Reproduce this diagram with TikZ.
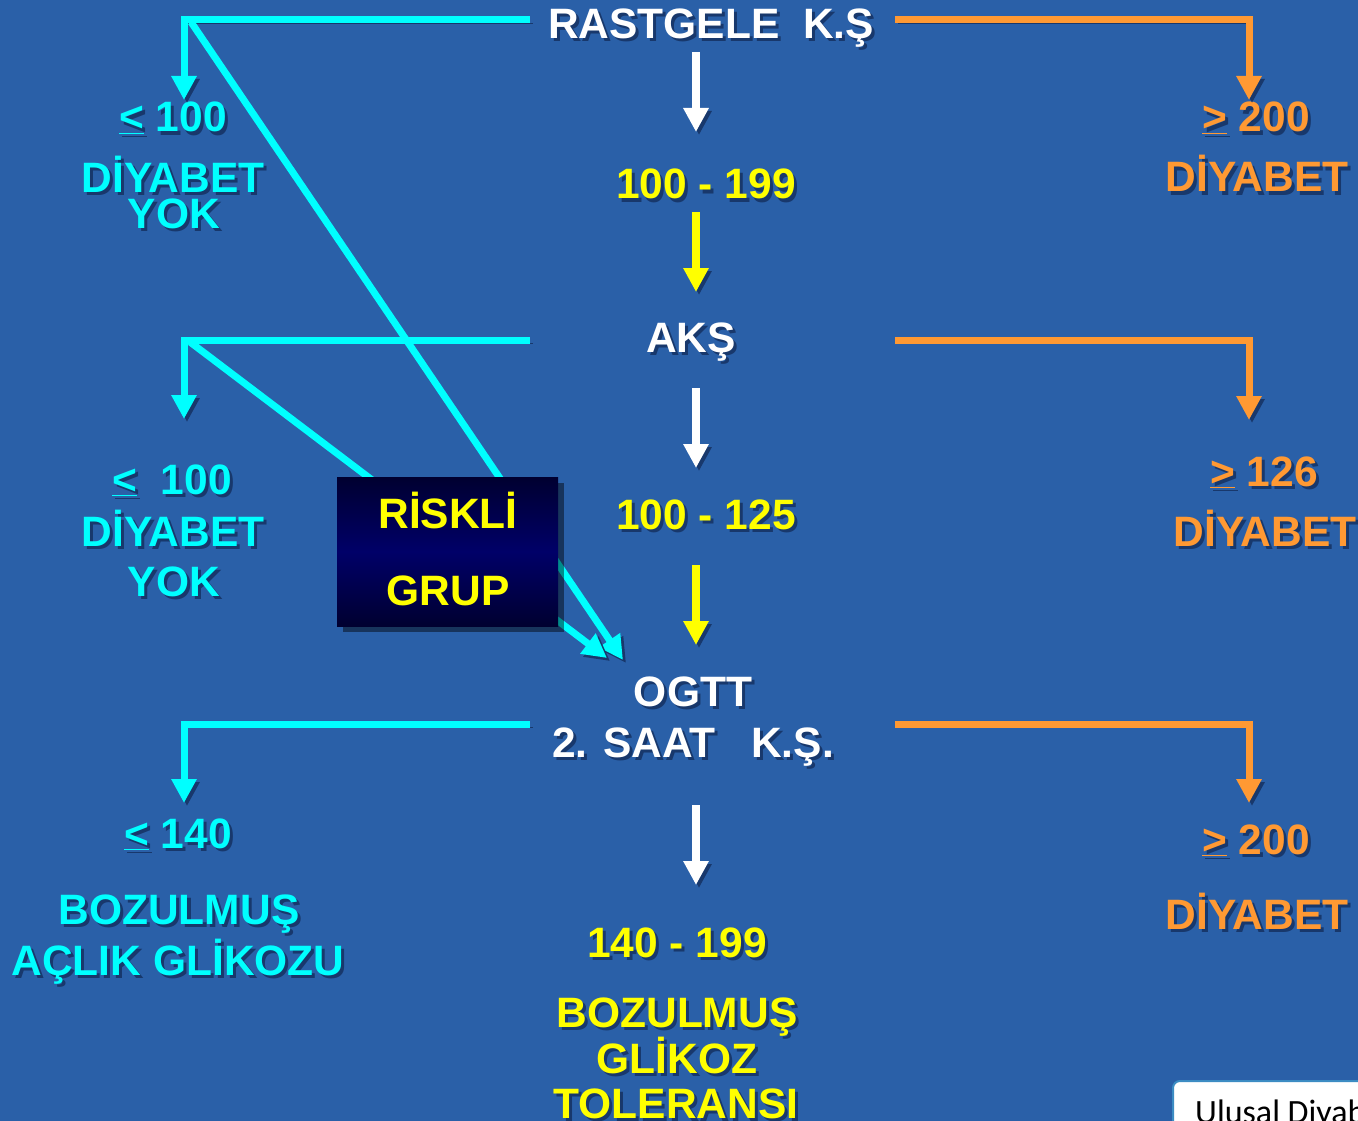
\documentclass[tikz,border=0pt]{standalone}
\usepackage{fontspec}
\setmainfont{Liberation Sans}
\newfontfamily\carl{Carlito}
\usetikzlibrary{arrows.meta}
\definecolor{bgc}{RGB}{42,96,168}
\definecolor{cyanc}{RGB}{0,255,255}
\definecolor{orangec}{RGB}{255,153,51}
\definecolor{yellowc}{RGB}{255,255,0}
\definecolor{shadowc}{RGB}{24,56,108}
\definecolor{navyd}{RGB}{0,0,48}
\definecolor{navym}{RGB}{0,0,104}
\definecolor{framec}{RGB}{60,140,195}
\newcommand{\shd}[1]{\makebox[0pt][l]{\hspace{3pt}\raisebox{-3pt}{\textcolor{shadowc}{#1}}}#1}
\newcommand{\leqs}{\underline{<}}
\newcommand{\geqs}{\underline{>}}
\begin{document}
\begin{tikzpicture}[x=1pt,y=-1pt,
  txt/.style={anchor=base, inner sep=0pt, font=\bfseries\fontsize{42.5}{42.5}\selectfont},
  wt/.style={txt, text=white},
  yt/.style={txt, text=yellowc},
  ct/.style={txt, text=cyanc},
  ot/.style={txt, text=orangec},
  shline/.style={line join=miter, preaction={draw=shadowc, transform canvas={shift={(3pt,-3pt)}}}},
  tip/.style={-{Triangle[width=24pt,length=24pt]}},
  cyanl/.style={draw=cyanc, line width=7pt, shline, tip},
  orangel/.style={draw=orangec, line width=7pt, shline, tip},
  whitel/.style={draw=white, line width=8pt, shline, tip},
  yellowl/.style={draw=yellowc, line width=8pt, shline, tip},
  riskbox/.style={minimum width=221pt, minimum height=149pt, inner sep=0pt,
    top color=navyd, bottom color=navyd, middle color=navym,
    preaction={fill=black, opacity=0.45, transform canvas={shift={(6pt,-6pt)}}}},
  notebox/.style={draw=framec, line width=2pt, fill=white, rounded corners=7pt,
    minimum width=260pt, minimum height=80pt, anchor=north west}
]
\useasboundingbox (0,0) rectangle (1358,1121);
\fill[bgc] (0,0) rectangle (1358,1121);
\clip (0,0) rectangle (1358,1121);

% ---------- texts ----------
\node[wt] (rast) at (711,39) {\shd{RASTGELE\ \ K.Ş}};
\node[ct] (le1) at (173,132) {\shd{\leqs{} 100}};
\node[ct] (dy1) at (173,193) {\shd{DİYABET}};
\node[ct] (yok1) at (174,228) {\shd{YOK}};
\node[ot] (ge1) at (1256,132) {\shd{\geqs{} 200}};
\node[ot] (odg1) at (1257,192) {\shd{DİYABET}};
\node[yt] (r1) at (706,199) {\shd{100 - 199}};
\node[wt] (aks) at (691,352) {\shd{AKŞ}};
\node[ct] (le2) at (172,494) {\shd{\leqs{}\ \ 100}};
\node[ct] (dy2) at (173,546) {\shd{DİYABET}};
\node[ct] (yok2) at (174,596) {\shd{YOK}};
\node[yt] (r2) at (706,529) {\shd{100 - 125}};
\node[ot] (ge2) at (1264,486) {\shd{\geqs{} 126}};
\node[ot] (odg2) at (1265,546) {\shd{DİYABET}};
\node[wt] (ogtt) at (693,706) {\shd{OGTT}};
\node[wt] (saat) at (693,757) {\shd{2. SAAT\ \ \ K.Ş.}};
\node[ct] (le3) at (178,848) {\shd{\leqs{} 140}};
\node[ct] (boz1) at (179,924) {\shd{BOZULMUŞ}};
\node[ct] (acl) at (178,975) {\shd{AÇLIK GLİKOZU}};
\node[ot] (ge3) at (1256,854) {\shd{\geqs{} 200}};
\node[ot] (odg3) at (1257,929) {\shd{DİYABET}};
\node[yt] (r3) at (677,957) {\shd{140 - 199}};
\node[yt] (boz2) at (677,1027) {\shd{BOZULMUŞ}};
\node[yt] (glk) at (677,1073) {\shd{GLİKOZ}};
\node[yt] (tol) at (676,1118) {\shd{TOLERANSI}};

% ---------- coordinates ----------
\coordinate (c1s) at (530,20);  \coordinate (c1k) at (184,20);  \coordinate (c1e) at (184,100);
\coordinate (o1s) at (895,20);  \coordinate (o1k) at (1249,20); \coordinate (o1e) at (1249,100);
\coordinate (c2s) at (530,340); \coordinate (c2k) at (184,340); \coordinate (c2e) at (184,419);
\coordinate (o2s) at (895,340); \coordinate (o2k) at (1249,340); \coordinate (o2e) at (1249,420);
\coordinate (c3s) at (530,724); \coordinate (c3k) at (184,724); \coordinate (c3e) at (184,803);
\coordinate (o3s) at (895,724); \coordinate (o3k) at (1249,724); \coordinate (o3e) at (1249,803);
\coordinate (d1s) at (191,22);  \coordinate (d1e) at (623,660);
\coordinate (d2s) at (190,342); \coordinate (d2e) at (607,658);
\coordinate (w1a) at (696,52);  \coordinate (w1b) at (696,132);
\coordinate (y1a) at (696,212); \coordinate (y1b) at (696,292);
\coordinate (w2a) at (696,388); \coordinate (w2b) at (696,468);
\coordinate (y2a) at (696,565); \coordinate (y2b) at (696,645);
\coordinate (w3a) at (696,805); \coordinate (w3b) at (696,885);

% ---------- connectors ----------
\draw[cyanl] (c1s) -- (c1k) -- (c1e);
\draw[orangel] (o1s) -- (o1k) -- (o1e);
\draw[cyanl] (c2s) -- (c2k) -- (c2e);
\draw[orangel] (o2s) -- (o2k) -- (o2e);
\draw[cyanl] (c3s) -- (c3k) -- (c3e);
\draw[orangel] (o3s) -- (o3k) -- (o3e);
\draw[cyanl] (d1s) -- (d1e);
\draw[cyanl] (d2s) -- (d2e);

\draw[whitel] (w1a) -- (w1b);
\draw[yellowl] (y1a) -- (y1b);
\draw[whitel] (w2a) -- (w2b);
\draw[yellowl] (y2a) -- (y2b);
\draw[whitel] (w3a) -- (w3b);

% ---------- risk box ----------
\node[riskbox] (risk) at (447.5,551.5) {};
\node[yt] (riskli) at (448,528) {RİSKLİ};
\node[yt] (grup) at (448,605) {GRUP};

% ---------- note box ----------
\node[notebox] (note) at (1172,1080) {};
\node[anchor=base west, inner sep=0pt, font=\carl\fontsize{34}{34}\selectfont, text=black] (notet) at (1195,1123) {Ulusal Diyabet};
\end{tikzpicture}
\end{document}
